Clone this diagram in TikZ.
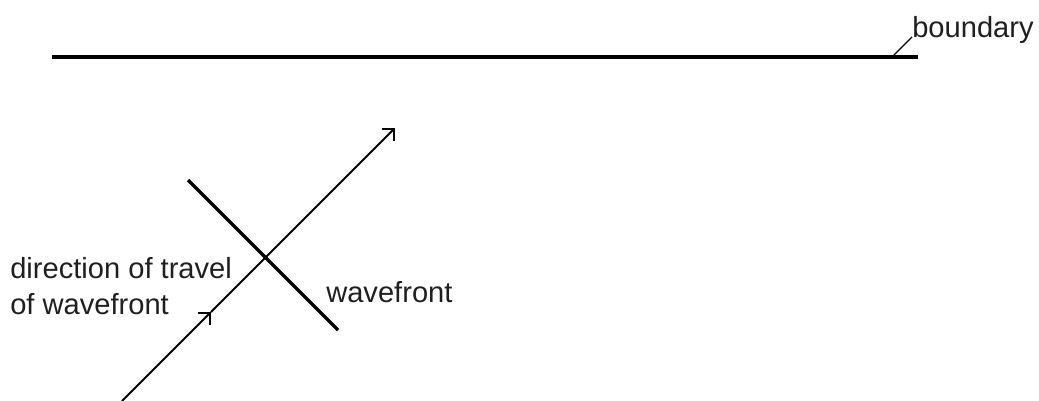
\documentclass[tikz,border=0pt]{standalone}
\usepackage{fontspec}
\setmainfont{Liberation Sans}
\usepackage{tikz}
\usetikzlibrary{arrows.meta,positioning}

\begin{document}
\begin{tikzpicture}[x=0.025cm,y=-0.025cm]
    % Setup the styles for the lines and labels
        \tikzset{thick line/.style={line width=2.4pt},
                 ray line/.style={line width=1.4pt,
                                  -{Straight Barb[angle=90:0.3cm,line width=1.4pt]}},
                 label text/.style={inner sep=0pt,
                                    text=black!88,
                                    font=\fontsize{20.7}{25.5}\selectfont}}
        \useasboundingbox (0,0) rectangle (1039,401);
        % Place the points
        \coordinate (bleft)  at (52,57);
        \coordinate (bright) at (918,57);
        \coordinate (bfoot)  at (892,57);
        \coordinate (wtop)   at (188,180);
        \coordinate (wbot)   at (338,330);
        \coordinate (rsrc)   at (122,401);
        \coordinate (rmid)   at (211,312);
        \coordinate (rtip)   at (395,128);
        % Draw the labels
        \node[label text, anchor=base west] at (912,37)  (blabel) {boundary};
        \node[label text, anchor=base west] at (326,302) (wlabel) {wavefront};
        \node[label text, anchor=north west, align=left] at (10,257) (dlabel)
             {direction of travel\\of wavefront};
        % Draw the lines
        \draw[thick line] (bleft) -- (bright);
        \draw[line width=0.8pt] (bfoot) -- (blabel.base west);
        \draw[thick line] (wtop) -- (wbot);
        \draw[ray line] (rsrc) -- (rmid);
        \draw[ray line] (rmid) -- (rtip);
\end{tikzpicture}
\end{document}
